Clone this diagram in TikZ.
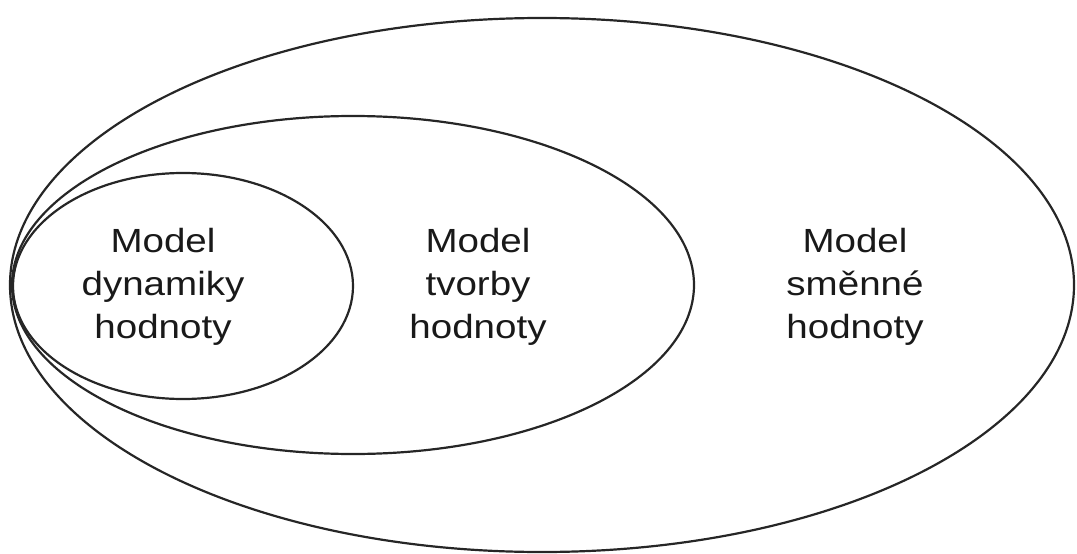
\documentclass[tikz,border=0pt]{standalone}
\usepackage{fontspec}
\newfontfamily\labelfont[FakeStretch=1.15]{Liberation Sans}
\usepackage{tikz}
\usetikzlibrary{positioning}

\begin{document}
\begin{tikzpicture}[x=1pt,y=-1pt]
    \tikzset{modelring/.style={draw=black!85,line width=2.2pt},
      modellabel/.style={align=center,inner sep=0pt,text=black!90,
      font=\labelfont\fontsize{33.5}{43}\selectfont}}
    \useasboundingbox (0,0) rectangle (1077,554);
    \draw[modelring] (542,285) ellipse [x radius=532pt,y radius=267pt];
    \draw[modelring] (353,285) ellipse [x radius=341pt,y radius=169pt];
    \draw[modelring] (183,286) ellipse [x radius=170pt,y radius=113pt];
    \node[modellabel] (dynamika) at (163,287) {Model\\dynamiky\\hodnoty};
    \node[modellabel] (tvorba) at (478,287) {Model\\tvorby\\hodnoty};
    \node[modellabel] (smena) at (855,287) {Model\\směnné\\hodnoty};
  \end{tikzpicture}
\end{document}
